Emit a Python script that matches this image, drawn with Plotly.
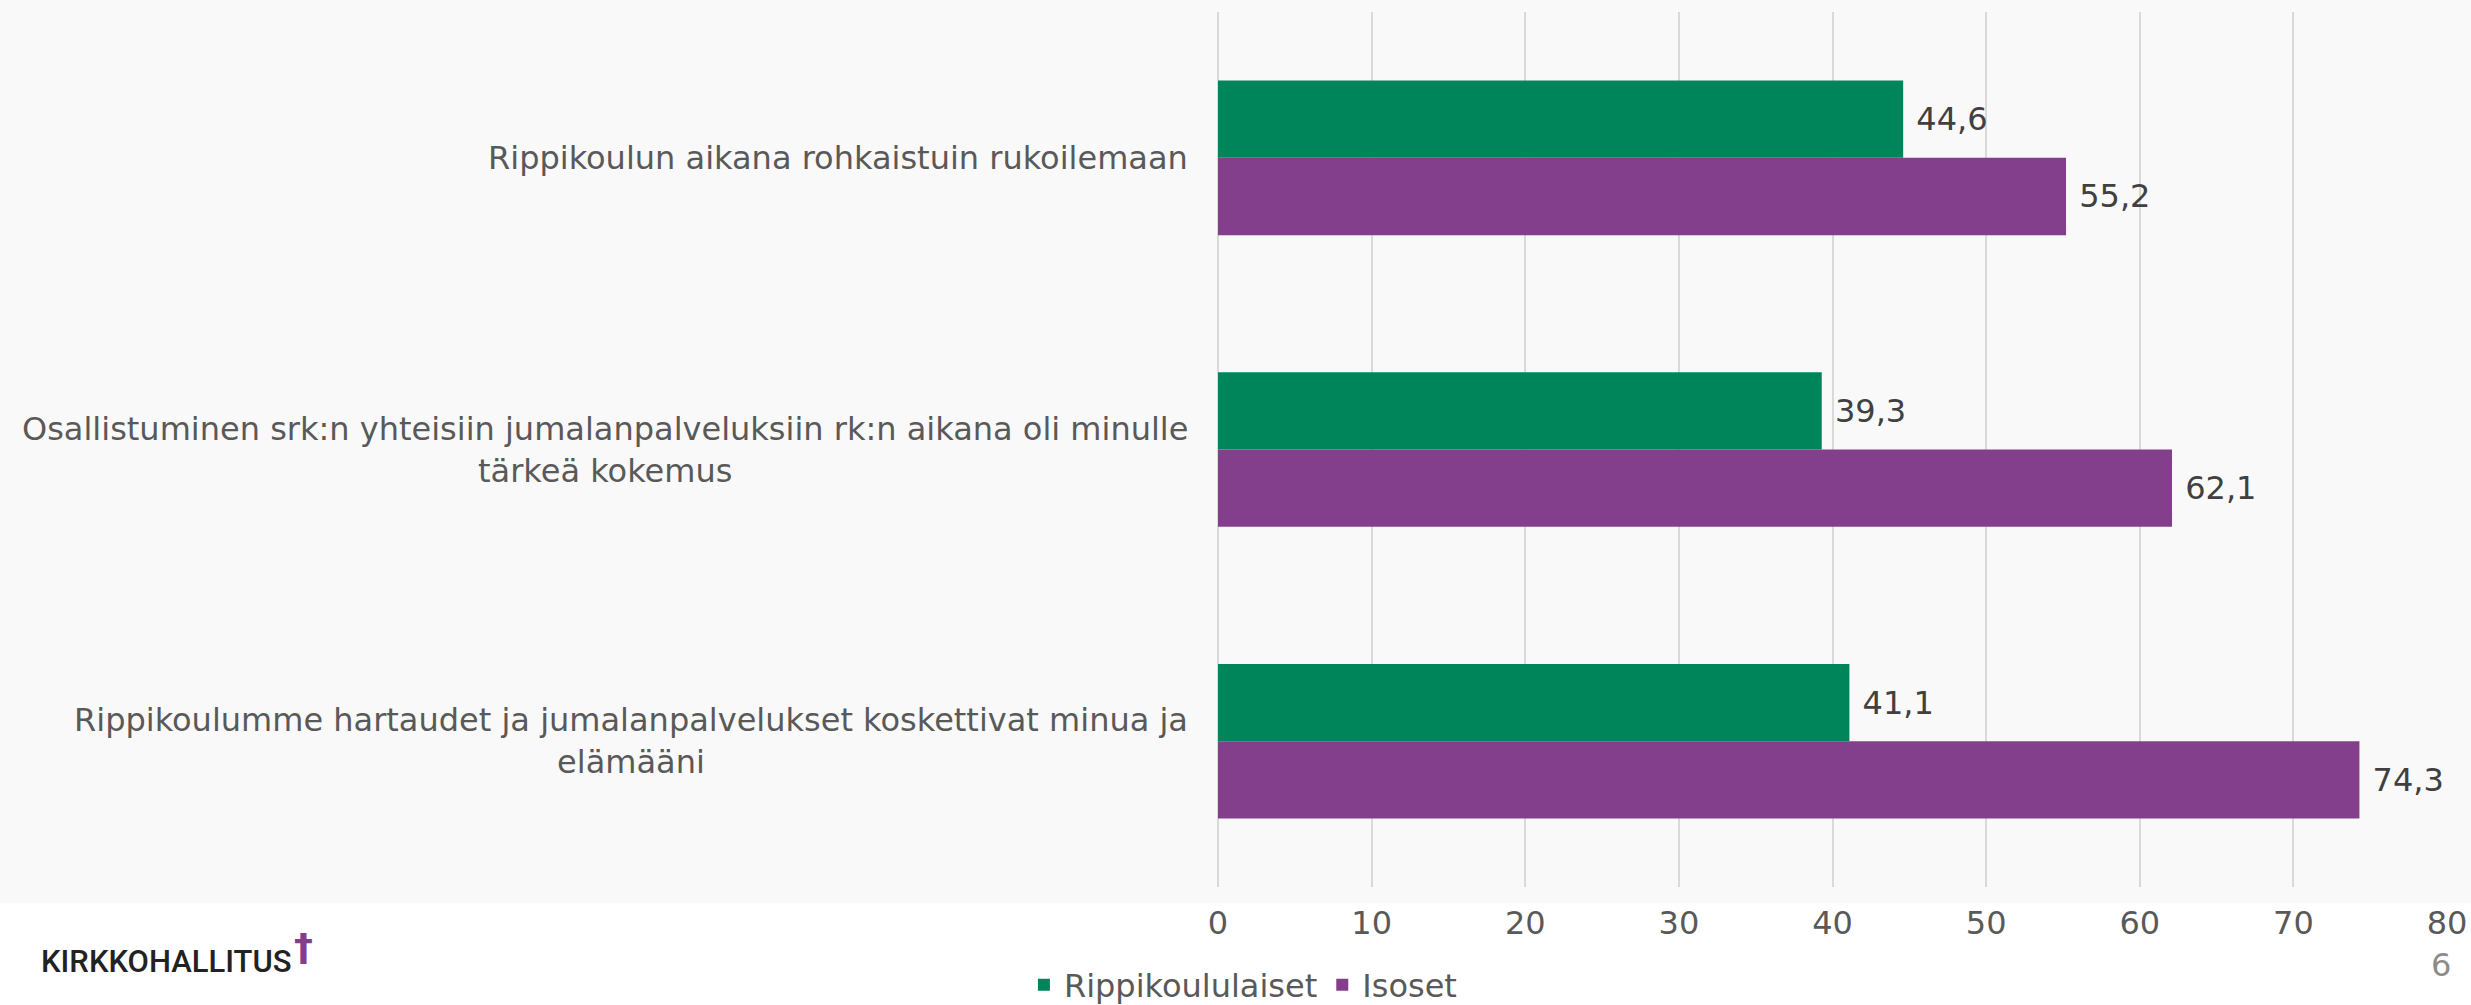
import plotly.graph_objects as go

categories = [
    "Rippikoulun aikana rohkaistuin rukoilemaan",
    "Osallistuminen srk:n yhteisiin jumalanpalveluksiin rk:n aikana oli minulle<br>tärkeä kokemus",
    "Rippikoulumme hartaudet ja jumalanpalvelukset koskettivat minua ja<br>elämääni",
]
rippikoululaiset = [44.6, 39.3, 41.1]
isoset = [55.2, 62.1, 74.3]
x_ticks = [0, 10, 20, 30, 40, 50, 60, 70, 80]

GREEN = "#00855A"
PURPLE = "#833F8B"
FONT = "DejaVu Sans"

fig = go.Figure()

fig.add_trace(go.Bar(
    y=categories, x=rippikoululaiset, name="Rippikoululaiset", orientation="h",
    marker=dict(color=GREEN, line=dict(width=0)),
    texttemplate="\u00a0%{x:.1f}", textposition="outside", constraintext="none",
    textfont=dict(family=FONT, size=32, color="#404040"),
))
fig.add_trace(go.Bar(
    y=categories, x=isoset, name="Isoset", orientation="h",
    marker=dict(color=PURPLE, line=dict(width=0)),
    texttemplate="\u00a0%{x:.1f}", textposition="outside", constraintext="none",
    textfont=dict(family=FONT, size=32, color="#404040"),
))

# category labels, centred lines, right-aligned block
for cat in categories:
    fig.add_annotation(
        x=0, xref="paper", y=cat, yref="y", xanchor="right", yanchor="middle",
        xshift=-28, text=cat, showarrow=False, align="center",
        font=dict(family=FONT, size=32, color="#595959"),
    )

# gray slide background behind the chart
fig.add_shape(type="rect", xref="paper", yref="paper",
              x0=-1.1, x1=1.1, y0=-0.0183, y1=1.1,
              fillcolor="#F9F9F9", line=dict(width=0), layer="below")

# logo and page number
fig.add_annotation(
    x=-0.9593, xref="paper", y=-0.0857, yref="paper", xanchor="left", yanchor="middle",
    text="KIRKKOHALLITUS", showarrow=False,
    font=dict(family="Roboto", size=31, color="#222222", weight=500),
)
fig.add_annotation(
    x=-0.7445, xref="paper", y=-0.0686, yref="paper", xanchor="center", yanchor="middle",
    text="<b>†</b>", showarrow=False,
    font=dict(family=FONT, size=38, color=PURPLE),
)
fig.add_annotation(
    x=0.9951, xref="paper", y=-0.0891, yref="paper", xanchor="center", yanchor="middle",
    text="6", showarrow=False, font=dict(family=FONT, size=32, color="#8C8C8C"),
)

fig.update_layout(
    width=2471, height=1005,
    margin=dict(l=1218, r=24, t=12, b=118, autoexpand=False),
    paper_bgcolor="white", plot_bgcolor="#F9F9F9",
    barmode="group", bargap=0.47, bargroupgap=0,
    separators=", ",
    font=dict(family=FONT, color="#595959"),
    xaxis=dict(
        range=[0, 80], tickvals=x_ticks, showgrid=True, gridcolor="#D9D9D9", gridwidth=2,
        zeroline=True, zerolinecolor="#D9D9D9", zerolinewidth=2, showline=False,
        tickfont=dict(family=FONT, size=32, color="#595959"), ticklabelstandoff=14,
        fixedrange=True,
    ),
    yaxis=dict(type="category", autorange="reversed", showticklabels=False,
               showgrid=False, zeroline=False),
    legend=dict(
        orientation="h", xref="container", yref="container", x=0.503, y=0.02,
        xanchor="center", yanchor="middle", traceorder="normal",
        font=dict(family=FONT, size=32, color="#595959"), bgcolor="rgba(0,0,0,0)",
    ),
    showlegend=True,
)

fig.write_html("out.html", config={"displayModeBar": False},
               post_script="document.body.style.margin='0';document.body.style.overflow='hidden';")
